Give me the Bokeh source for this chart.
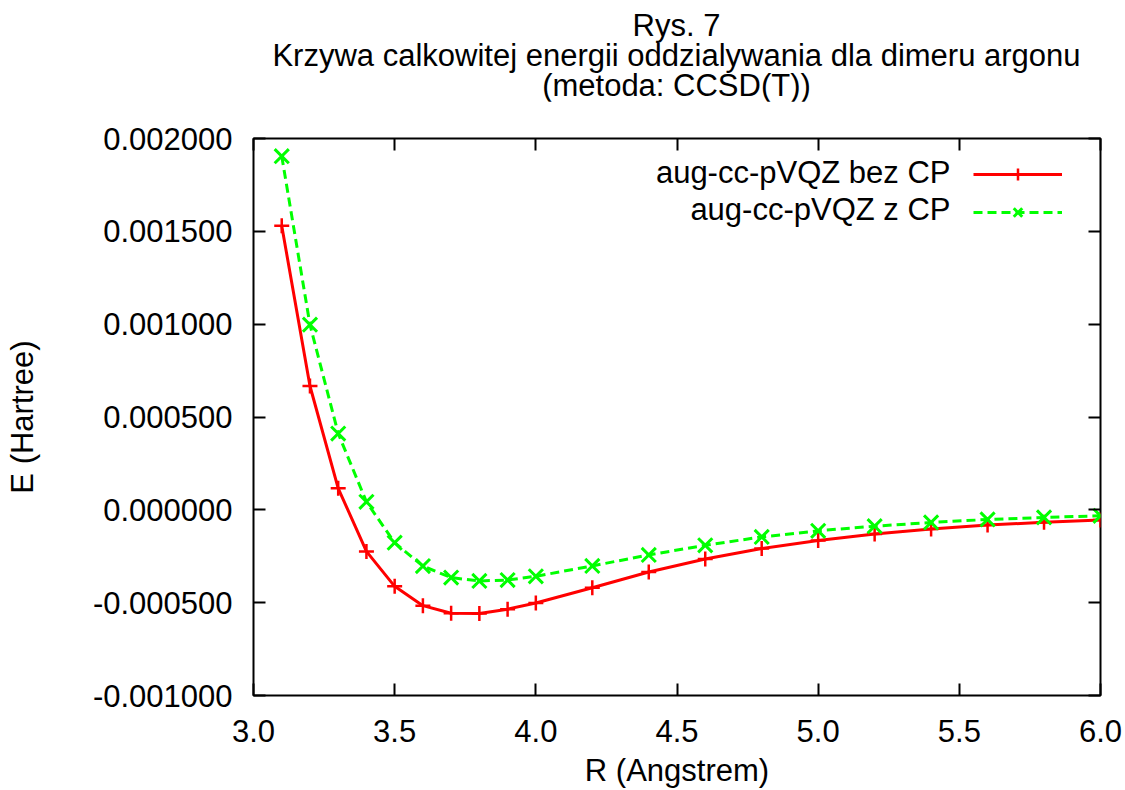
from bokeh.plotting import figure
from bokeh.layouts import column
from bokeh.models import (FixedTicker, PrintfTickFormatter, LinearAxis, Label, Range1d,
                          Legend, LegendItem, CustomJSTickFormatter, Div)
from bokeh.core.properties import value
from bokeh.embed import file_html
from bokeh.resources import INLINE

# ---- data ----
R = [3.1, 3.2, 3.3, 3.4, 3.5, 3.6, 3.7, 3.8, 3.9, 4.0,
     4.2, 4.4, 4.6, 4.8, 5.0, 5.2, 5.4, 5.6, 5.8, 6.0]
E_bez_cp = [0.001530, 0.000667, 0.000116, -0.000224, -0.000412, -0.000516, -0.000557,
            -0.000558, -0.000535, -0.000502, -0.000420, -0.000335, -0.000265, -0.000208,
            -0.000165, -0.000130, -0.000103, -0.000082, -0.000067, -0.000055]
E_z_cp = [0.001905, 0.000997, 0.000411, 0.000043, -0.000177, -0.000303, -0.000365,
          -0.000383, -0.000378, -0.000358, -0.000302, -0.000243, -0.000191, -0.000146,
          -0.000113, -0.000088, -0.000068, -0.000052, -0.000041, -0.000032]
series_labels = ["aug-cc-pVQZ bez CP", "aug-cc-pVQZ z CP"]
x_ticks = [3.0, 3.5, 4.0, 4.5, 5.0, 5.5, 6.0]
y_ticks = [-0.001, -0.0005, 0.0, 0.0005, 0.001, 0.0015, 0.002]
title_lines = ["Rys. 7", "Krzywa calkowitej energii oddzialywania dla dimeru argonu",
               "(metoda: CCSD(T))"]
x_label = "R (Angstrem)"
y_label = "E (Hartree)"

FONT = "Liberation Sans"
FS = "31px"

# ---- title block (three centred lines over the plot frame) ----
title_div = Div(text="<br>".join(title_lines), width=847, height=90,
                margin=(11, 0, 0, 253),
                styles={"font-family": FONT, "font-size": FS, "line-height": "30px",
                        "text-align": "center", "color": "black", "width": "847px"})

p = figure(width=1125, height=689, output_backend="svg", toolbar_location=None,
           title=None,
           x_range=Range1d(3.0, 6.0), y_range=Range1d(-0.001, 0.002),
           min_border_left=253, min_border_right=25, min_border_top=37,
           min_border_bottom=95)
p.grid.visible = False
p.outline_line_color = "black"
p.outline_line_width = 2
p.background_fill_color = "white"
p.border_fill_color = "white"

xb = p.below[0]
yl = p.left[0]
top_axis = LinearAxis()
right_axis = LinearAxis()
p.add_layout(top_axis, "above")
p.add_layout(right_axis, "right")

for ax in [xb, top_axis]:
    ax.ticker = FixedTicker(ticks=x_ticks)
for ax in [yl, right_axis]:
    ax.ticker = FixedTicker(ticks=y_ticks)

for ax in [xb, yl, top_axis, right_axis]:
    ax.axis_line_color = None
    ax.major_tick_in = 12
    ax.major_tick_out = 0
    ax.minor_tick_in = 0
    ax.minor_tick_out = 0
    ax.major_tick_line_color = "black"
    ax.major_tick_line_width = 2
    ax.major_label_text_font = FONT
    ax.major_label_text_font_size = FS
    ax.major_label_text_color = "black"
    ax.axis_label_text_font = FONT
    ax.axis_label_text_font_size = FS
    ax.axis_label_text_font_style = "normal"
    ax.axis_label_text_color = "black"

for ax in [top_axis, right_axis]:
    ax.formatter = CustomJSTickFormatter(code="return ''")
    ax.major_label_text_font_size = "0px"
    ax.major_label_standoff = 0

xb.formatter = PrintfTickFormatter(format="%.1f")
yl.formatter = PrintfTickFormatter(format="%.6f")
xb.major_label_standoff = 24
yl.major_label_standoff = 21
xb.axis_label = x_label
xb.axis_label_standoff = 8
yl.axis_label = y_label
yl.axis_label_standoff = 50

# ---- series ----
l1 = p.line(R, E_bez_cp, line_color="#ff0000", line_width=3)
s1 = p.scatter(R, E_bez_cp, marker="cross", size=15, line_color="#ff0000", line_width=2.5)
l2 = p.line(R, E_z_cp, line_color="#00ff00", line_width=3, line_dash="9 5")
s2 = p.scatter(R, E_z_cp, marker="x", size=20, line_color="#00ff00", line_width=3)

# ---- legend (samples from Legend, labels to the left as text) ----
legend = Legend(items=[LegendItem(label=value(" "), renderers=[l1, s1]),
                       LegendItem(label=value(" "), renderers=[l2, s2])],
                location=(720, 468), orientation="vertical",
                glyph_width=89, glyph_height=30, label_height=30, label_width=0,
                label_standoff=0, spacing=8, padding=0, margin=0,
                border_line_color=None, background_fill_alpha=0,
                label_text_font_size="1px", label_text_alpha=0)
p.add_layout(legend, "center")

leg_rows_y = [523, 486]
for lab, yy in zip(series_labels, leg_rows_y):
    p.add_layout(Label(x=697, y=yy, x_units="screen", y_units="screen", text=lab,
                       text_align="right", text_baseline="middle",
                       text_font=FONT, text_font_size=FS, text_color="black"))

layout = column(title_div, p, spacing=0)
open("out.html", "w").write(file_html(layout, INLINE))
